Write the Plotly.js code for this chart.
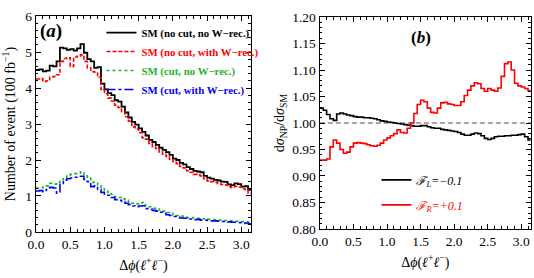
<!DOCTYPE html>
<html><head><meta charset="utf-8">
<script src="https://cdn.plot.ly/plotly-3.0.1.min.js"></script>
<style>html,body{margin:0;padding:0;background:#fff;}#chart{width:534px;height:278px;}</style>
</head><body><div id="chart"></div>
<script>
// Bin layout: 63 bins of width 0.05 over [0, pi]
const binWidth = 0.05;

// Panel (a): number of events per bin (100 fb^-1)
const smNoCutNoW = [4.50,4.52,4.46,4.48,4.62,4.60,4.74,5.12,5.10,5.06,
  5.08,5.04,5.10,5.22,4.98,4.80,4.74,4.56,4.58,4.12,
  3.96,3.86,3.80,3.66,3.62,3.48,3.32,3.18,3.06,2.98,
  2.88,2.78,2.68,2.56,2.50,2.42,2.34,2.28,2.22,2.14,
  2.04,2.00,1.92,1.88,1.80,1.75,1.70,1.68,1.66,1.56,
  1.51,1.48,1.45,1.43,1.40,1.39,1.32,1.30,1.35,1.33,
  1.26,1.27,1.17];
const smNoCutWithW = [4.25,4.26,4.18,4.20,4.30,4.32,4.37,4.74,4.82,4.84,
  4.60,4.86,4.88,4.92,4.74,4.56,4.46,4.44,4.30,3.96,
  3.84,3.72,3.64,3.52,3.46,3.34,3.20,3.08,2.92,2.86,
  2.76,2.62,2.58,2.46,2.36,2.32,2.22,2.16,2.10,2.02,
  1.96,1.90,1.82,1.78,1.70,1.66,1.60,1.58,1.56,1.48,
  1.42,1.40,1.38,1.35,1.32,1.31,1.26,1.24,1.27,1.25,
  1.20,1.18,1.08];
const smCutNoW = [1.22,1.23,1.25,1.28,1.35,1.33,1.38,1.45,1.52,1.58,
  1.60,1.62,1.63,1.67,1.56,1.50,1.38,1.36,1.28,1.20,
  1.14,1.10,1.04,0.98,0.96,0.92,0.88,0.84,0.80,0.78,
  0.80,0.82,0.72,0.70,0.66,0.64,0.61,0.58,0.54,0.52,
  0.48,0.46,0.44,0.42,0.40,0.40,0.38,0.38,0.36,0.37,
  0.35,0.35,0.34,0.33,0.33,0.32,0.31,0.31,0.30,0.29,
  0.29,0.28,0.27];
const smCutWithW = [1.14,1.15,1.12,1.18,1.24,1.22,1.08,1.35,1.44,1.48,
  1.50,1.52,1.52,1.55,1.46,1.40,1.26,1.28,1.18,1.10,
  1.05,1.02,0.96,0.90,0.88,0.84,0.80,0.76,0.72,0.70,
  0.72,0.73,0.65,0.63,0.60,0.58,0.55,0.52,0.48,0.46,
  0.43,0.41,0.39,0.38,0.36,0.36,0.34,0.35,0.33,0.33,
  0.32,0.31,0.31,0.30,0.29,0.29,0.28,0.27,0.27,0.26,
  0.24,0.25,0.23];

// Panel (b): ratio dsigma_NP / dsigma_SM
const ratioFL = [1.028,1.024,1.016,1.008,1.005,1.017,1.019,1.017,1.015,1.014,
  1.012,1.011,1.011,1.010,1.010,1.009,1.008,1.006,1.004,1.003,
  1.002,1.001,1.000,0.999,0.998,0.997,0.996,0.995,0.994,0.994,
  0.995,0.995,0.993,0.991,0.990,0.990,0.988,0.987,0.986,0.985,
  0.984,0.982,0.979,0.977,0.977,0.979,0.981,0.980,0.976,0.971,
  0.969,0.971,0.974,0.975,0.975,0.976,0.976,0.977,0.977,0.978,
  0.979,0.974,0.968];
const ratioFR = [0.930,0.930,0.932,0.955,0.968,0.962,0.950,0.943,0.945,0.955,
  0.962,0.963,0.962,0.961,0.959,0.957,0.956,0.958,0.962,0.968,
  0.972,0.976,0.980,0.987,0.982,0.981,0.990,1.000,1.018,1.035,
  1.043,1.040,1.028,1.020,1.019,1.028,1.038,1.039,1.036,1.035,
  1.033,1.033,1.040,1.052,1.062,1.070,1.076,1.074,1.065,1.060,
  1.065,1.062,1.060,1.066,1.088,1.112,1.115,1.100,1.075,1.070,
  1.068,1.065,1.061];

const xMax = Math.PI;
function stepX(vals){ const xs = vals.map((_,i)=>i*binWidth); xs.push(xMax); return xs; }
function stepY(vals){ return vals.concat([vals[vals.length-1]]); }

const serif = 'Liberation Serif, Times New Roman, serif';
function lbl(txt, col){ return '<b><span style="color:'+col+'">'+txt+'</span></b>'; }

const traces = [
  {x:stepX(smNoCutNoW), y:stepY(smNoCutNoW), mode:'lines', line:{shape:'hv', color:'#000000', width:1.8},
   name:lbl('SM (no cut, no W\u2212rec.)','#000000'), legend:'legend', legendgroup:'a1', xaxis:'x', yaxis:'y'},
  {x:stepX(smNoCutWithW), y:stepY(smNoCutWithW), mode:'lines', line:{shape:'hv', color:'#ff0000', width:1.6, dash:'4px,2px'},
   name:lbl('SM (no cut, with W\u2212rec.)','#ff0000'), legend:'legend', legendgroup:'a2', xaxis:'x', yaxis:'y'},
  {x:stepX(smCutNoW), y:stepY(smCutNoW), mode:'lines', line:{shape:'hv', color:'#1fb51f', width:1.6, dash:'dot'},
   name:lbl('SM (cut, no W\u2212rec.)','#1fb51f'), legend:'legend', legendgroup:'a3', xaxis:'x', yaxis:'y'},
  {x:stepX(smCutWithW), y:stepY(smCutWithW), mode:'lines', line:{shape:'hv', color:'#0000ff', width:1.6, dash:'dashdot'},
   name:lbl('SM (cut, with W\u2212rec.)','#0000ff'), legend:'legend', legendgroup:'a4', xaxis:'x', yaxis:'y'},
  {x:stepX(ratioFL), y:stepY(ratioFL), mode:'lines', line:{shape:'hv', color:'#000000', width:1.6},
   name:'<i><span style="color:#000">\u2131<sub>L</sub>=\u22120.1</span></i>', legend:'legend2', legendgroup:'b1', xaxis:'x2', yaxis:'y2'},
  {x:stepX(ratioFR), y:stepY(ratioFR), mode:'lines', line:{shape:'hv', color:'#ff0000', width:1.6},
   name:'<i><span style="color:#ff0000">\u2131<sub>R</sub>=+0.1</span></i>', legend:'legend2', legendgroup:'b2', xaxis:'x2', yaxis:'y2'}
];

const axBase = {showline:true, linecolor:'#000', linewidth:1.3, mirror:'allticks', ticks:'inside',
  ticklen:5, tickwidth:1, tickcolor:'#000', showgrid:false, zeroline:false,
  tickfont:{family:serif, size:13.5, color:'#000'}};

const xTitle = '\u0394<i>\u03d5</i>(<i>\u2113</i><sup>+</sup><i>\u2113</i><sup>\u2212</sup>)';

const layout = {
  width:534, height:278, margin:{l:0,r:0,t:0,b:0}, paper_bgcolor:'#fff', plot_bgcolor:'#fff',
  font:{family:serif, color:'#000'},
  xaxis: Object.assign({}, axBase, {domain:[0.0674,0.470], range:[0,xMax], dtick:0.5, tick0:0, tickformat:'.1f',
    minor:{ticks:'inside', dtick:0.1, ticklen:2.5, tickcolor:'#000'},
    title:{text:xTitle, font:{family:serif,size:14}, standoff:8}, anchor:'y'}),
  yaxis: Object.assign({}, axBase, {domain:[0.1655,0.9424], range:[0,6], dtick:1, tick0:0,
    minor:{ticks:'inside', dtick:0.2, ticklen:2.5, tickcolor:'#000'},
    title:{text:'Number of event (100 fb<sup>\u22121</sup>)', font:{family:serif,size:14}, standoff:6}, anchor:'x'}),
  xaxis2: Object.assign({}, axBase, {domain:[0.599,0.994], range:[0,xMax], dtick:0.5, tick0:0, tickformat:'.1f',
    minor:{ticks:'inside', dtick:0.1, ticklen:2.5, tickcolor:'#000'},
    title:{text:xTitle, font:{family:serif,size:14}, standoff:8}, anchor:'y2'}),
  yaxis2: Object.assign({}, axBase, {domain:[0.1763,0.9388], range:[0.8,1.2], dtick:0.05, tick0:0.8, tickformat:'.2f',
    minor:{ticks:'inside', dtick:0.01, ticklen:2.5, tickcolor:'#000'},
    title:{text:'d<i>\u03c3</i><sub>NP</sub>/d<i>\u03c3</i><sub>SM</sub>', font:{family:serif,size:14}, standoff:4}, anchor:'x2'}),
  legend:{x:0.19, xanchor:'left', y:0.935, yanchor:'top', bgcolor:'rgba(0,0,0,0)', borderwidth:0,
    font:{family:serif, size:10.8}, itemwidth:30, tracegroupgap:0},
  legend2:{x:0.705, xanchor:'left', y:0.405, yanchor:'top', bgcolor:'rgba(0,0,0,0)', borderwidth:0,
    font:{family:serif, size:12}, itemwidth:30, tracegroupgap:6},
  shapes:[{type:'line', xref:'x2 domain', x0:0, x1:1, yref:'y2', y0:1, y1:1, line:{color:'#555', width:1.2, dash:'5px,3px'}, layer:'below'}],
  annotations:[
    {text:'<b>(<i>a</i>)</b>', xref:'paper', yref:'paper', x:0.072, y:0.935, xanchor:'left', yanchor:'top', showarrow:false, font:{family:serif, size:19}},
    {text:'<b>(<i>b</i>)</b>', xref:'paper', yref:'paper', x:0.765, y:0.905, xanchor:'left', yanchor:'top', showarrow:false, font:{family:serif, size:17}}
  ],
  showlegend:true
};

Plotly.newPlot('chart', traces, layout, {staticPlot:true, displayModeBar:false});
</script></body></html>
